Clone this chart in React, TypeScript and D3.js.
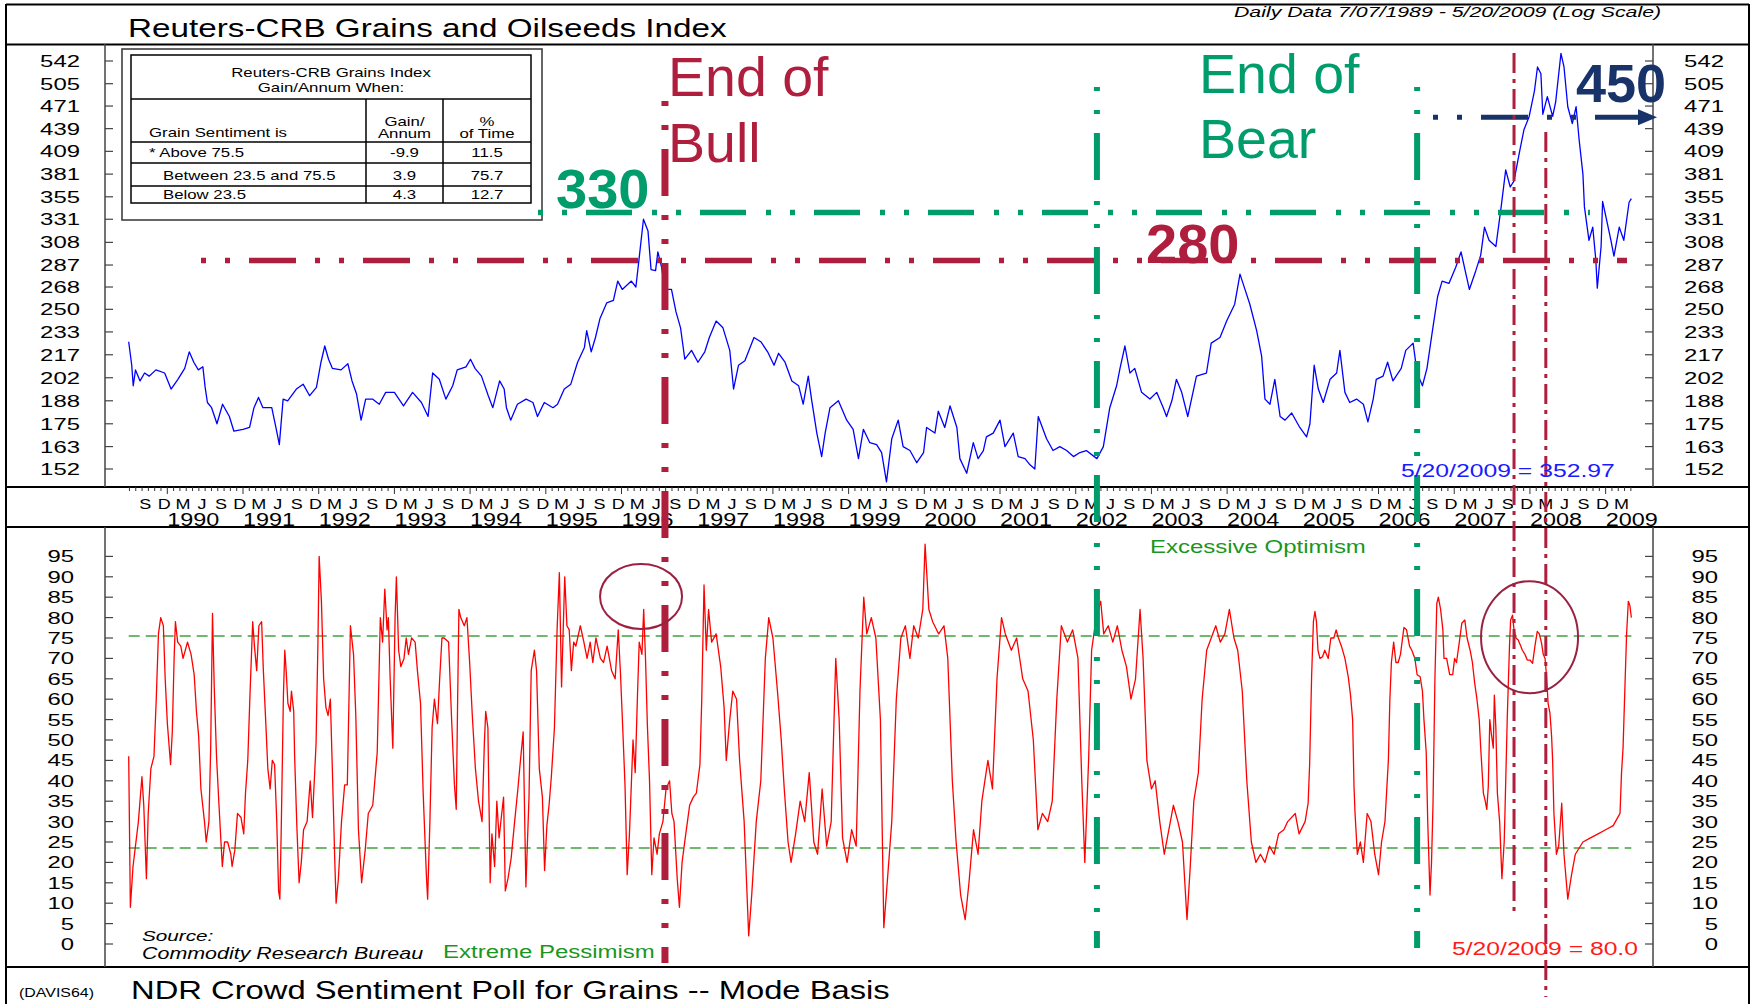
import React from 'react';
import * as d3 from 'd3';

// ---------- DATA ----------
// Reuters-CRB Grains & Oilseeds index, [decimal year, value] (log scale)
const priceSeries: [number, number][] = [
[1989.49,226],[1989.53,210],[1989.55,197],[1989.58,207],[1989.64,200],[1989.70,205],[1989.76,203],[1989.85,207],[1989.965,205],[1990.05,195],[1990.14,201],[1990.23,208],[1990.29,219],[1990.35,212],[1990.41,207],[1990.47,209],[1990.50,196],[1990.53,187],[1990.585,184],[1990.656,175],[1990.73,186],[1990.82,179],[1990.88,171],[1991.0,172],[1991.087,173],[1991.145,184],[1991.205,190],[1991.263,184],[1991.38,184],[1991.44,172],[1991.48,164],[1991.53,189],[1991.59,188],[1991.705,195],[1991.794,198],[1991.88,191],[1991.97,196],[1992.03,212],[1992.08,223],[1992.13,214],[1992.18,208],[1992.295,207],[1992.385,211],[1992.44,200],[1992.50,192],[1992.56,177],[1992.62,189],[1992.71,189],[1992.80,186],[1992.885,193],[1993.0,193],[1993.12,185],[1993.24,193],[1993.357,187],[1993.445,179],[1993.505,205],[1993.593,201],[1993.68,189],[1993.77,197],[1993.83,207],[1993.946,209],[1994.005,214],[1994.065,208],[1994.15,203],[1994.24,191],[1994.30,184],[1994.39,200],[1994.45,195],[1994.48,184],[1994.536,177],[1994.625,186],[1994.74,189],[1994.83,187],[1994.89,179],[1994.98,187],[1995.095,184],[1995.155,186],[1995.244,195],[1995.33,198],[1995.42,212],[1995.51,222],[1995.54,234],[1995.60,219],[1995.656,229],[1995.716,243],[1995.804,255],[1995.893,257],[1995.95,273],[1996.01,266],[1996.13,273],[1996.19,268],[1996.247,302],[1996.29,331],[1996.35,319],[1996.39,283],[1996.45,282],[1996.48,299],[1996.53,285],[1996.57,266],[1996.66,266],[1996.72,248],[1996.78,236],[1996.836,214],[1996.925,220],[1997.01,212],[1997.10,219],[1997.16,229],[1997.25,241],[1997.34,236],[1997.43,220],[1997.48,195],[1997.545,210],[1997.63,213],[1997.75,229],[1997.84,226],[1997.93,219],[1998.015,210],[1998.075,218],[1998.16,212],[1998.25,200],[1998.34,197],[1998.40,186],[1998.467,203],[1998.51,189],[1998.58,170],[1998.644,158],[1998.69,170],[1998.754,184],[1998.865,188],[1998.975,177],[1999.06,172],[1999.13,157],[1999.195,172],[1999.28,165],[1999.37,164],[1999.436,160],[1999.50,146],[1999.57,167],[1999.655,177],[1999.72,163],[1999.81,161],[1999.90,155],[1999.99,160],[2000.03,173],[2000.14,170],[2000.185,182],[2000.27,173],[2000.34,185],[2000.43,173],[2000.47,157],[2000.56,150],[2000.647,165],[2000.71,157],[2000.78,161],[2000.82,168],[2000.91,170],[2001.0,177],[2001.065,163],[2001.175,170],[2001.24,158],[2001.33,157],[2001.396,154],[2001.46,152],[2001.505,179],[2001.615,167],[2001.70,161],[2001.79,163],[2001.88,161],[2001.97,158],[2002.056,160],[2002.14,161],[2002.28,157],[2002.365,163],[2002.45,184],[2002.54,197],[2002.585,208],[2002.65,223],[2002.716,205],[2002.78,208],[2002.87,193],[2002.98,189],[2003.07,193],[2003.156,184],[2003.20,179],[2003.27,188],[2003.33,201],[2003.40,193],[2003.48,179],[2003.595,203],[2003.727,205],[2003.79,225],[2003.906,229],[2003.994,241],[2004.10,254],[2004.17,279],[2004.236,266],[2004.30,254],[2004.39,234],[2004.456,216],[2004.50,189],[2004.566,186],[2004.63,201],[2004.70,179],[2004.765,177],[2004.853,181],[2004.96,173],[2005.05,168],[2005.094,175],[2005.15,210],[2005.205,195],[2005.27,187],[2005.36,201],[2005.447,205],[2005.49,220],[2005.556,193],[2005.62,187],[2005.71,189],[2005.80,186],[2005.86,176],[2005.93,189],[2005.97,201],[2006.06,203],[2006.12,212],[2006.19,200],[2006.30,208],[2006.36,220],[2006.457,225],[2006.51,205],[2006.58,197],[2006.64,208],[2006.71,233],[2006.78,260],[2006.84,273],[2006.93,271],[2007.02,285],[2007.09,299],[2007.155,279],[2007.20,266],[2007.285,282],[2007.35,296],[2007.40,323],[2007.46,310],[2007.55,304],[2007.62,344],[2007.68,386],[2007.74,366],[2007.79,373],[2007.86,407],[2007.92,437],[2007.99,456],[2008.06,494],[2008.10,532],[2008.145,521],[2008.17,459],[2008.23,485],[2008.30,456],[2008.34,477],[2008.41,555],[2008.45,532],[2008.50,470],[2008.56,446],[2008.61,470],[2008.65,424],[2008.70,381],[2008.72,344],[2008.78,310],[2008.83,323],[2008.87,292],[2008.89,267],[2008.94,304],[2008.96,350],[2009.0,335],[2009.07,310],[2009.11,295],[2009.18,323],[2009.24,310],[2009.31,349],[2009.34,352.97]
];

// NDR Crowd Sentiment Poll for Grains, [decimal year, value]
const sentimentSeries: [number, number][] = [
[1989.49,46],[1989.512,9],[1989.547,19],[1989.618,30],[1989.648,37],[1989.665,41],[1989.689,34],[1989.724,16],[1989.748,32],[1989.783,43],[1989.824,46],[1989.854,60],[1989.883,76],[1989.913,80],[1989.948,78],[1989.972,65],[1990.001,54],[1990.043,44],[1990.066,52],[1990.09,70],[1990.107,79],[1990.137,74],[1990.178,73],[1990.208,70],[1990.267,74],[1990.314,71],[1990.355,66],[1990.385,57],[1990.414,51],[1990.444,38],[1990.491,30],[1990.514,25],[1990.55,30],[1990.573,48],[1990.597,81],[1990.62,63],[1990.65,46],[1990.68,35],[1990.709,25],[1990.727,19],[1990.756,25],[1990.797,25],[1990.839,22],[1990.856,19],[1990.892,23],[1990.927,32],[1990.974,31],[1991.01,27],[1991.033,37],[1991.063,45],[1991.092,61],[1991.128,79],[1991.151,73],[1991.181,67],[1991.21,78],[1991.246,79],[1991.269,67],[1991.299,55],[1991.328,43],[1991.358,38],[1991.387,45],[1991.417,44],[1991.446,30],[1991.47,13],[1991.487,11],[1991.505,28],[1991.534,61],[1991.552,72],[1991.57,67],[1991.593,59],[1991.623,57],[1991.64,62],[1991.67,57],[1991.682,46],[1991.711,29],[1991.741,15],[1991.77,20],[1991.8,28],[1991.847,30],[1991.888,40],[1991.918,31],[1991.965,49],[1991.989,73],[1992.006,95],[1992.036,84],[1992.065,65],[1992.095,58],[1992.124,56],[1992.154,60],[1992.183,41],[1992.213,20],[1992.23,10],[1992.26,16],[1992.301,30],[1992.343,39],[1992.378,39],[1992.419,78],[1992.46,71],[1992.49,56],[1992.525,28],[1992.567,15],[1992.614,23],[1992.655,32],[1992.714,34],[1992.773,47],[1992.814,80],[1992.844,74],[1992.873,87],[1992.903,77],[1992.92,80],[1992.944,65],[1992.979,48],[1993.009,80],[1993.026,90],[1993.056,72],[1993.085,68],[1993.127,70],[1993.156,75],[1993.186,71],[1993.227,75],[1993.274,74],[1993.304,67],[1993.345,59],[1993.38,37],[1993.422,17],[1993.439,11],[1993.469,30],[1993.498,53],[1993.528,60],[1993.569,54],[1993.598,65],[1993.628,75],[1993.657,75],[1993.716,74],[1993.758,54],[1993.793,39],[1993.817,33],[1993.834,58],[1993.852,82],[1993.876,80],[1993.923,78],[1993.958,80],[1993.994,69],[1994.029,56],[1994.07,43],[1994.111,35],[1994.158,30],[1994.188,49],[1994.206,57],[1994.235,53],[1994.265,15],[1994.288,27],[1994.324,19],[1994.353,35],[1994.383,26],[1994.406,30],[1994.442,36],[1994.465,13],[1994.5,16],[1994.542,21],[1994.583,29],[1994.631,38],[1994.66,44],[1994.701,52],[1994.737,14],[1994.778,36],[1994.807,67],[1994.849,72],[1994.878,67],[1994.914,43],[1994.955,36],[1994.984,18],[1995.014,29],[1995.043,34],[1995.073,41],[1995.114,53],[1995.149,77],[1995.179,91],[1995.208,63],[1995.25,90],[1995.279,78],[1995.309,77],[1995.338,67],[1995.368,74],[1995.397,73],[1995.456,78],[1995.503,74],[1995.545,70],[1995.586,74],[1995.621,69],[1995.662,75],[1995.721,70],[1995.763,69],[1995.81,73],[1995.869,67],[1995.916,65],[1995.957,77],[1995.987,66],[1996.016,53],[1996.046,39],[1996.075,17],[1996.105,27],[1996.152,50],[1996.181,42],[1996.211,61],[1996.234,74],[1996.27,71],[1996.293,82],[1996.317,70],[1996.341,54],[1996.37,40],[1996.4,17],[1996.429,26],[1996.47,22],[1996.5,27],[1996.547,30],[1996.588,38],[1996.635,40],[1996.665,32],[1996.694,30],[1996.736,16],[1996.765,9],[1996.8,20],[1996.842,26],[1996.9,34],[1996.948,36],[1996.989,37],[1997.036,44],
[1997.06,60],[1997.09,88],[1997.12,72],[1997.15,82],[1997.19,74],[1997.25,76],[1997.31,68],[1997.355,58],[1997.384,45],[1997.43,55],[1997.47,62],[1997.52,60],[1997.56,45],[1997.62,30],[1997.68,2],[1997.72,12],[1997.78,30],[1997.84,40],[1997.9,70],[1997.945,80],[1998.0,75],[1998.06,62],[1998.11,50],[1998.15,38],[1998.2,25],[1998.24,20],[1998.3,27],[1998.36,35],[1998.42,30],[1998.48,42],[1998.54,25],[1998.59,22],[1998.65,38],[1998.71,24],[1998.77,30],[1998.83,70],[1998.875,55],[1998.92,26],[1998.98,20],[1999.04,28],[1999.1,24],[1999.15,62],[1999.2,85],[1999.24,76],[1999.3,80],[1999.36,75],[1999.42,55],[1999.465,4],[1999.51,15],[1999.57,30],[1999.63,60],[1999.69,75],[1999.75,78],[1999.81,70],[1999.86,78],[1999.92,75],[1999.98,82],[2000.01,98],[2000.06,82],[2000.11,79],[2000.19,76],[2000.26,78],[2000.31,70],[2000.37,40],[2000.42,25],[2000.48,12],[2000.54,6],[2000.59,15],[2000.65,28],[2000.71,22],[2000.76,35],[2000.84,45],[2000.9,38],[2000.96,65],[2001.02,80],[2001.07,76],[2001.15,72],[2001.22,75],[2001.3,65],[2001.37,62],[2001.44,50],[2001.5,28],[2001.56,32],[2001.63,30],[2001.69,35],[2001.75,60],[2001.81,78],[2001.89,74],[2001.96,77],[2002.03,70],[2002.08,40],[2002.12,20],[2002.17,45],[2002.21,72],[2002.27,80],[2002.33,84],[2002.37,76],[2002.43,78],[2002.49,74],[2002.55,78],[2002.61,72],[2002.67,68],[2002.73,60],[2002.79,65],[2002.85,82],[2002.89,70],[2002.94,45],[2003.0,38],[2003.05,40],[2003.11,30],[2003.17,22],[2003.23,28],[2003.29,34],[2003.35,30],[2003.41,25],[2003.47,6],[2003.51,18],[2003.56,35],[2003.62,42],[2003.67,60],[2003.73,72],[2003.79,75],[2003.85,78],[2003.91,74],[2003.97,76],[2004.03,82],[2004.09,75],[2004.14,72],[2004.2,62],[2004.26,40],[2004.32,25],[2004.38,20],[2004.44,22],[2004.5,20],[2004.56,24],[2004.62,22],[2004.68,27],
[2004.75,28],[2004.8,30],[2004.9,32],[2004.95,27],[2005.03,30],[2005.07,34.5],[2005.09,44],[2005.116,65.5],[2005.14,79],[2005.16,81.5],[2005.18,79],[2005.2,72],[2005.226,70],[2005.26,70.4],[2005.29,72],[2005.336,70],[2005.37,75],[2005.41,75],[2005.44,77],[2005.47,75],[2005.51,73],[2005.556,70],[2005.6,65.5],[2005.63,61],[2005.658,55],[2005.676,38.6],[2005.69,32],[2005.72,22],[2005.76,25],[2005.8,20],[2005.85,32],[2005.9,30],[2005.95,22],[2006.0,17],[2006.04,25],[2006.085,30],[2006.13,45],[2006.15,60],[2006.17,69],[2006.2,74],[2006.23,69],[2006.26,69],[2006.29,71],[2006.336,77.6],[2006.37,77],[2006.41,73],[2006.44,72],[2006.48,70],[2006.51,66],[2006.55,65.5],[2006.58,62],[2006.6,55],[2006.63,47],[2006.65,30],[2006.68,12],[2006.7,20],[2006.72,34.5],[2006.745,65],[2006.77,83.5],[2006.79,85],[2006.82,82],[2006.85,77],[2006.865,70],[2006.9,70],[2006.92,68],[2006.94,66],[2006.98,66],[2007.005,70],[2007.03,69],[2007.06,73],[2007.1,78.6],[2007.14,79.4],[2007.17,75],[2007.21,72],[2007.24,69],[2007.27,64],[2007.3,60],[2007.33,55],[2007.35,48],[2007.385,37],[2007.41,35],[2007.43,33],[2007.45,38.6],[2007.47,55],[2007.49,51.6],[2007.516,48],[2007.53,61],[2007.55,53],[2007.57,37],[2007.6,30],[2007.63,16],[2007.66,25],[2007.67,32],[2007.7,55],[2007.73,73],[2007.745,79.4],[2007.77,80.6],[2007.79,77],[2007.815,75],[2007.845,74.5],[2007.88,73],[2007.9,72],[2007.934,71],[2007.965,69.6],[2008.0,69.6],[2008.035,68.8],[2008.066,73],[2008.097,76.6],[2008.124,76],[2008.154,73.7],[2008.176,71],[2008.2,70],[2008.22,65.5],[2008.24,59],[2008.265,56.5],[2008.286,51],[2008.3,45],[2008.317,32],[2008.35,22],[2008.38,24],[2008.42,34.5],[2008.45,22],[2008.5,11],[2008.55,17],[2008.6,22],[2008.7,25],[2008.8,26],[2008.9,27],[2009.0,28],[2009.1,29],[2009.19,32],[2009.21,42],[2009.23,48],[2009.255,63],[2009.277,76],[2009.3,84],[2009.32,83],[2009.34,80]
];

const priceTicks = [542, 505, 471, 439, 409, 381, 355, 331, 308, 287, 268, 250, 233, 217, 202, 188, 175, 163, 152];
const sentimentTicks = [0, 5, 10, 15, 20, 25, 30, 35, 40, 45, 50, 55, 60, 65, 70, 75, 80, 85, 90, 95];
const yearLabels = [1990, 1991, 1992, 1993, 1994, 1995, 1996, 1997, 1998, 1999, 2000, 2001, 2002, 2003, 2004, 2005, 2006, 2007, 2008, 2009];
const quarterMonths: [number, string][] = [[3, 'M'], [6, 'J'], [9, 'S'], [12, 'D']];

const sentimentBands = [75.5, 23.5];
const tableRows = [
  ['* Above 75.5', '-9.9', '11.5'],
  ['Between 23.5 and 75.5', '3.9', '75.7'],
  ['Below 23.5', '4.3', '12.7'],
];

// annotation levels / dates
const bullLevel = 338;   // "330" line
const bearLevel = 291;   // "280" line
const topLevel = 455;    // "450" line
const endOfBull = 1996.574;
const endOfBear = [2002.28, 2006.51];
const peakMarks = [2007.79, 2008.21];
const circleMarks: [number, number][] = [[1996.258, 85.2], [2007.995, 75.2]];

// ---------- STYLE ----------
const FONT = "'Liberation Sans', Arial, Helvetica, sans-serif";
const GREEN = '#009c6b';
const CRIMSON = '#b01e3e';
const NAVY = '#18326a';
const MAROON = '#9a2142';
const DASH = '5,19,5,19,47,19';

const T = ({ x, y, s = 16, sx = 1.4, a = 'start', c = '#000', w, i, children }: any) => (
  <text transform={`translate(${x},${y}) scale(${sx},1)`} fontSize={s} textAnchor={a} fill={c}
    fontWeight={w} fontStyle={i ? 'italic' : undefined}>{children}</text>
);

export default function App() {
  const x = d3.scaleLinear().domain([1989.177, 2009.639]).range([105, 1654]);
  const yTop = d3.scaleLog().domain([152, 542]).range([469, 61]);
  const yBot = d3.scaleLinear().domain([0, 95]).range([944, 556.4]);

  const pricePath = d3.line<[number, number]>().x(d => x(d[0])).y(d => yTop(d[1]))(priceSeries) || '';
  const sentPath = d3.line<[number, number]>().x(d => x(d[0])).y(d => yBot(d[1]))(sentimentSeries) || '';

  const monthTicks: { t: number; yr: boolean }[] = [];
  for (let yr = 1989; yr <= 2009; yr++) {
    for (let m = 0; m < 12; m++) {
      const t = yr + m / 12;
      if (t >= 1989.5 && t <= 2009.4) monthTicks.push({ t, yr: m === 0 });
    }
  }
  const quarterLabels: { t: number; l: string }[] = [];
  for (let yr = 1989; yr <= 2009; yr++) {
    quarterMonths.forEach(([m, l]) => {
      const t = yr + (m - 0.5) / 12;
      if (t > 1989.6 && t < 2009.3) quarterLabels.push({ t, l });
    });
  }

  const yBull = yTop(bullLevel), yBear = yTop(bearLevel), yHigh = yTop(topLevel);

  return (
    <svg width={1752} height={1004} style={{ position: 'absolute', left: 0, top: 0, background: '#fff' }} fontFamily={FONT}>
      <rect x={0} y={0} width={1752} height={1004} fill="#fff" />

      {/* frame */}
      <g stroke="#000" strokeWidth={2}>
        <line x1={6} y1={4.5} x2={1749} y2={4.5} />
        <line x1={6} y1={4} x2={6} y2={1004} />
        <line x1={1749} y1={4} x2={1749} y2={1004} />
        <line x1={6} y1={44.5} x2={1749} y2={44.5} />
        <line x1={6} y1={487} x2={1749} y2={487} />
        <line x1={6} y1={527} x2={1749} y2={527} />
        <line x1={6} y1={967} x2={1749} y2={967} />
      </g>
      <g stroke="#444" strokeWidth={1.5}>
        <line x1={105} y1={44} x2={105} y2={487} />
        <line x1={1653} y1={44} x2={1653} y2={487} />
        <line x1={105} y1={527} x2={105} y2={967} />
        <line x1={1653} y1={527} x2={1653} y2={967} />
      </g>

      {/* titles */}
      <T x={128} y={37} s={25} sx={1.33}>Reuters-CRB Grains and Oilseeds Index</T>
      <T x={1234} y={17} s={15} sx={1.42} i>Daily Data 7/07/1989 - 5/20/2009 (Log Scale)</T>
      <T x={131} y={999} s={25} sx={1.31}>NDR Crowd Sentiment Poll for Grains -- Mode Basis</T>
      <T x={19} y={997} s={12} sx={1.33}>(DAVIS64)</T>

      {/* top axis ticks + labels */}
      {priceTicks.map(v => (
        <g key={'pt' + v}>
          <line x1={105} x2={113} y1={yTop(v)} y2={yTop(v)} stroke="#444" strokeWidth={1.2} />
          <line x1={1645} x2={1653} y1={yTop(v)} y2={yTop(v)} stroke="#444" strokeWidth={1.2} />
          <T x={80} y={yTop(v) + 6} s={16.5} sx={1.45} a="end">{v}</T>
          <T x={1724} y={yTop(v) + 6} s={16.5} sx={1.45} a="end">{v}</T>
        </g>
      ))}
      {sentimentTicks.map(v => (
        <g key={'st' + v}>
          <line x1={105} x2={113} y1={yBot(v)} y2={yBot(v)} stroke="#444" strokeWidth={1.2} />
          <line x1={1645} x2={1653} y1={yBot(v)} y2={yBot(v)} stroke="#444" strokeWidth={1.2} />
          <T x={74} y={yBot(v) + 6} s={16.5} sx={1.45} a="end">{v}</T>
          <T x={1718} y={yBot(v) + 6} s={16.5} sx={1.45} a="end">{v}</T>
        </g>
      ))}

      {/* x axis band */}
      {monthTicks.map((m, k) => (
        <line key={'mt' + k} x1={x(m.t)} x2={x(m.t)} y1={487} y2={m.yr ? 494 : 491} stroke="#333" strokeWidth={1} />
      ))}
      {quarterLabels.map((q, k) => (
        <T key={'ql' + k} x={x(q.t)} y={509} s={15} sx={1.2} a="middle">{q.l}</T>
      ))}
      {yearLabels.map(yr => (
        <T key={'yl' + yr} x={x(yr)} y={526} s={18} sx={1.3}>{yr}</T>
      ))}

      {/* table */}
      <rect x={122} y={49} width={420} height={171} fill="#fff" stroke="#333" strokeWidth={1.5} />
      <g stroke="#000" strokeWidth={1.5} fill="none">
        <rect x={131} y={55} width={400} height={148} />
        <line x1={131} x2={531} y1={99} y2={99} />
        <line x1={131} x2={531} y1={142} y2={142} />
        <line x1={131} x2={531} y1={163} y2={163} />
        <line x1={131} x2={531} y1={186} y2={186} />
        <line x1={366} x2={366} y1={99} y2={203} />
        <line x1={443} x2={443} y1={99} y2={203} />
      </g>
      <T x={331} y={77} s={12} sx={1.4} a="middle">Reuters-CRB Grains  Index</T>
      <T x={331} y={92} s={12} sx={1.4} a="middle">Gain/Annum When:</T>
      <T x={149} y={137} s={12} sx={1.4}>Grain Sentiment is</T>
      <T x={404.5} y={126} s={12} sx={1.4} a="middle">Gain/</T>
      <T x={404.5} y={138} s={12} sx={1.4} a="middle">Annum</T>
      <T x={487} y={126} s={12} sx={1.4} a="middle">%</T>
      <T x={487} y={138} s={12} sx={1.4} a="middle">of Time</T>
      {tableRows.map((r, k) => (
        <g key={'tr' + k}>
          <T x={k === 0 ? 149 : 163} y={[157, 180, 199][k]} s={12} sx={1.4}>{r[0]}</T>
          <T x={404.5} y={[157, 180, 199][k]} s={12} sx={1.4} a="middle">{r[1]}</T>
          <T x={487} y={[157, 180, 199][k]} s={12} sx={1.4} a="middle">{r[2]}</T>
        </g>
      ))}

      {/* sentiment bands */}
      {sentimentBands.map(v => (
        <line key={'b' + v} x1={x(1989.49)} x2={x(2009.34)} y1={yBot(v)} y2={yBot(v)} stroke="#3fa33f" strokeWidth={1.5} strokeDasharray="11,6" />
      ))}

      {/* data lines */}
      <path d={pricePath} fill="none" stroke="#0000ff" strokeWidth={1.3} strokeLinejoin="round" />
      <path d={sentPath} fill="none" stroke="#ff0000" strokeWidth={1.3} strokeLinejoin="round" />

      {/* horizontal annotation lines */}
      <line x1={538} x2={1590} y1={yBull} y2={yBull} stroke={GREEN} strokeWidth={5.5} strokeDasharray="5,19,5,19,46,20" />
      <line x1={201} x2={1627} y1={yBear} y2={yBear} stroke={CRIMSON} strokeWidth={5.5} strokeDasharray={DASH} />
      <line x1={1433} x2={1641} y1={yHigh} y2={yHigh} stroke={NAVY} strokeWidth={5} strokeDasharray={DASH} />
      <polygon points={`1638,${yHigh - 8} 1657,${yHigh} 1638,${yHigh + 8}`} fill={NAVY} />

      {/* vertical annotation lines */}
      <line x1={x(endOfBull)} x2={x(endOfBull)} y1={101} y2={963} stroke={CRIMSON} strokeWidth={7} strokeDasharray={DASH} />
      {endOfBear.map(t => (
        <line key={'eb' + t} x1={x(t)} x2={x(t)} y1={87} y2={948} stroke={GREEN} strokeWidth={6} strokeDasharray="4,19,4,19,47,21" />
      ))}
      <line x1={x(peakMarks[0])} x2={x(peakMarks[0])} y1={53} y2={916} stroke={CRIMSON} strokeWidth={3} strokeDasharray="20,6,4,6" />
      <line x1={x(peakMarks[1])} x2={x(peakMarks[1])} y1={132} y2={997} stroke={CRIMSON} strokeWidth={3} strokeDasharray="20,6,4,6" />

      {/* circles */}
      <ellipse cx={x(circleMarks[0][0])} cy={yBot(circleMarks[0][1])} rx={41} ry={32.5} fill="none" stroke={MAROON} strokeWidth={2} />
      <ellipse cx={x(circleMarks[1][0])} cy={yBot(circleMarks[1][1])} rx={48.5} ry={56} fill="none" stroke={MAROON} strokeWidth={2} />

      {/* annotation text */}
      <T x={668} y={96} s={55.5} sx={1} c={CRIMSON}>End of</T>
      <T x={668} y={162} s={55.5} sx={1} c={CRIMSON}>Bull</T>
      <T x={1199} y={93} s={55.5} sx={1} c={GREEN}>End of</T>
      <T x={1199} y={158} s={55.5} sx={1} c={GREEN}>Bear</T>
      <T x={556} y={208} s={56} sx={1} c={GREEN} w="bold">330</T>
      <T x={1146} y={263} s={56} sx={1} c={CRIMSON} w="bold">280</T>
      <T x={1576} y={102} s={54} sx={1} c={NAVY} w="bold">450</T>

      <T x={1401} y={477} s={18.6} sx={1.33} c="#1a1aff">5/20/2009 = 352.97</T>
      <T x={1452} y={955} s={19} sx={1.3} c="#ff1a1a">5/20/2009 = 80.0</T>
      <T x={1150} y={553} s={18.6} sx={1.29} c="#1a961e">Excessive Optimism</T>
      <T x={443} y={958} s={18.6} sx={1.29} c="#1a961e">Extreme Pessimism</T>
      <T x={142} y={941} s={15} sx={1.38} i>Source:</T>
      <T x={142} y={959} s={16} sx={1.34} i>Commodity Research Bureau</T>
    </svg>
  );
}
